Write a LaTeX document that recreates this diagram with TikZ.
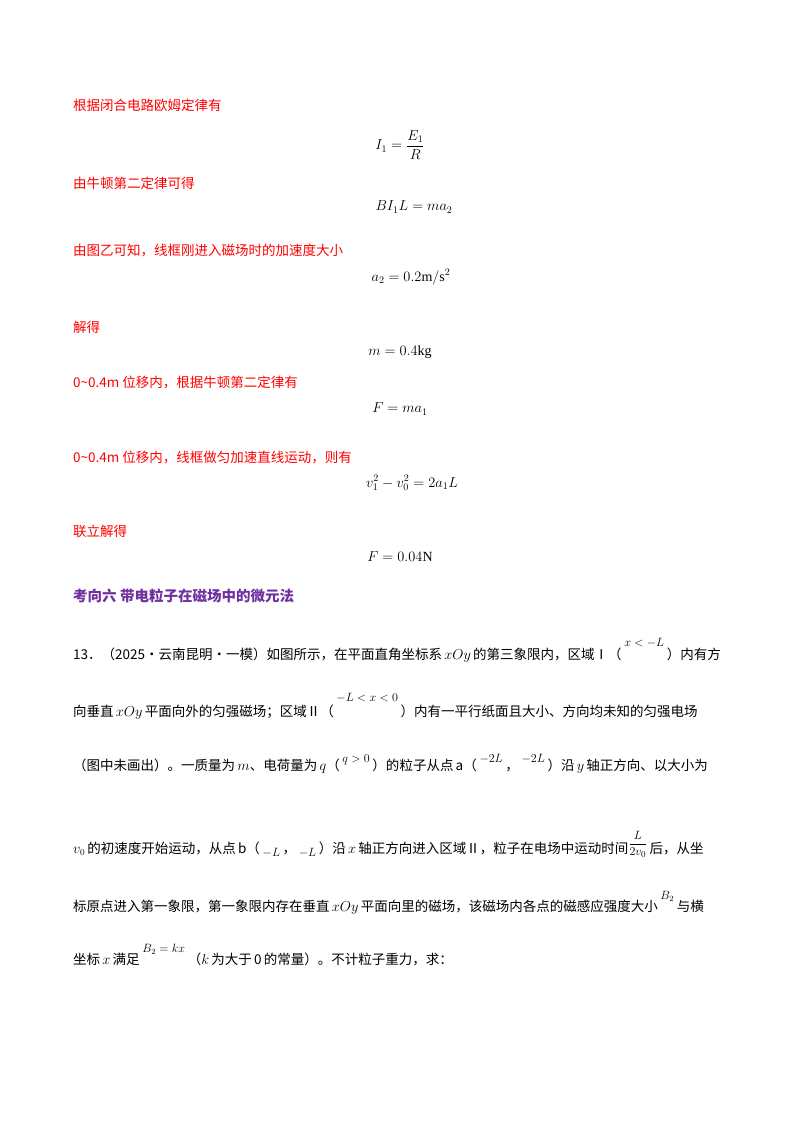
\documentclass[tikz,border=0pt]{standalone}
\usepackage{amsmath}
\usepackage{fontspec}
\setmainfont{Liberation Serif}
\newfontfamily\cjk{Noto Sans CJK SC}
\definecolor{rd}{RGB}{255,0,0}
\definecolor{pp}{RGB}{112,48,160}
\newcommand{\upm}[2]{\raisebox{#1}{\fontsize{12}{13}\selectfont\ #2\ }}
\begin{document}
\begin{tikzpicture}[x=1pt,y=-1pt,
 rt/.style={anchor=west,text=rd,font=\cjk\fontsize{13.5}{15}\selectfont,inner sep=0},
 bt/.style={anchor=west,font=\cjk\fontsize{13.5}{15}\selectfont,inner sep=0},
 eq/.style={anchor=center,font=\fontsize{14}{16}\selectfont,inner sep=0}]
\useasboundingbox[fill=white] (0,0) rectangle (800,1132);
\node[rt] (t1) at (73,105) {根据闭合电路欧姆定律有};
\node[eq] (e1) at (400,145) {$I_1=\dfrac{E_1}{R}$};
\node[rt] (t2) at (73,183) {由牛顿第二定律可得};
\node[eq] (e2) at (414,207) {$BI_1L=ma_2$};
\node[rt] (t3) at (73,251) {由图乙可知，线框刚进入磁场时的加速度大小};
\node[eq] (e3) at (411,277) {$a_2=0.2\mathrm{m}/\mathrm{s}^2$};
\node[rt] (t4) at (73,327) {解得};
\node[eq] (e4) at (400,352) {$m=0.4\mathrm{kg}$};
\node[rt] (t5) at (73,383) {0\textasciitilde0.4m 位移内，根据牛顿第二定律有};
\node[eq] (e5) at (400,409) {$F=ma_1$};
\node[rt] (t6) at (73,457) {0\textasciitilde0.4m 位移内，线框做匀加速直线运动，则有};
\node[eq] (e6) at (412,483) {$v_1^2-v_0^2=2a_1L$};
\node[rt] (t7) at (73,531) {联立解得};
\node[eq] (e7) at (400,557) {$F=0.04\mathrm{N}$};
\node[bt,text=pp,font=\cjk\bfseries\fontsize{14.5}{16}\selectfont] (h) at (73,596) {考向六\ 带电粒子在磁场中的微元法};
\node[bt] (l1) at (73,650) {13．（2025·云南昆明·一模）如图所示，在平面直角坐标系\,$xOy$\,的第三象限内，区域Ⅰ（\upm{13pt}{$x<-L$}）内有方};
\node[bt] (l2) at (73,706) {向垂直\,$xOy$\,平面向外的匀强磁场；区域Ⅱ（\upm{15pt}{$-L<x<0$}）内有一平行纸面且大小、方向均未知的匀强电场};
\node[bt] (l3) at (73,764) {（图中未画出）。一质量为\,$m$、电荷量为\,$q$（\upm{8pt}{$q>0$}）的粒子从点\,a（\upm{8pt}{$-2L$}，\upm{8pt}{$-2L$}）沿\,$y$\,轴正方向、以大小为};
\node[bt] (l4) at (73,844) {$v_0$\,的初速度开始运动，从点\,b（\upm{-3pt}{$-L$}，\upm{-3pt}{$-L$}）沿\,$x$\,轴正方向进入区域Ⅱ，粒子在电场中运动时间\raisebox{6pt}{\fontsize{13}{14}\selectfont$\dfrac{L}{2v_0}$}\,后，从坐};
\node[bt] (l5) at (73,903) {标原点进入第一象限，第一象限内存在垂直\,$xOy$\,平面向里的磁场，该磁场内各点的磁感应强度大小\upm{12pt}{$B_2$}与横};
\node[bt] (l6) at (73,955) {坐标\,$x$\,满足\upm{12pt}{$B_2=kx$}（$k$\,为大于\,0\,的常量）。不计粒子重力，求：};
\end{tikzpicture}
\end{document}
